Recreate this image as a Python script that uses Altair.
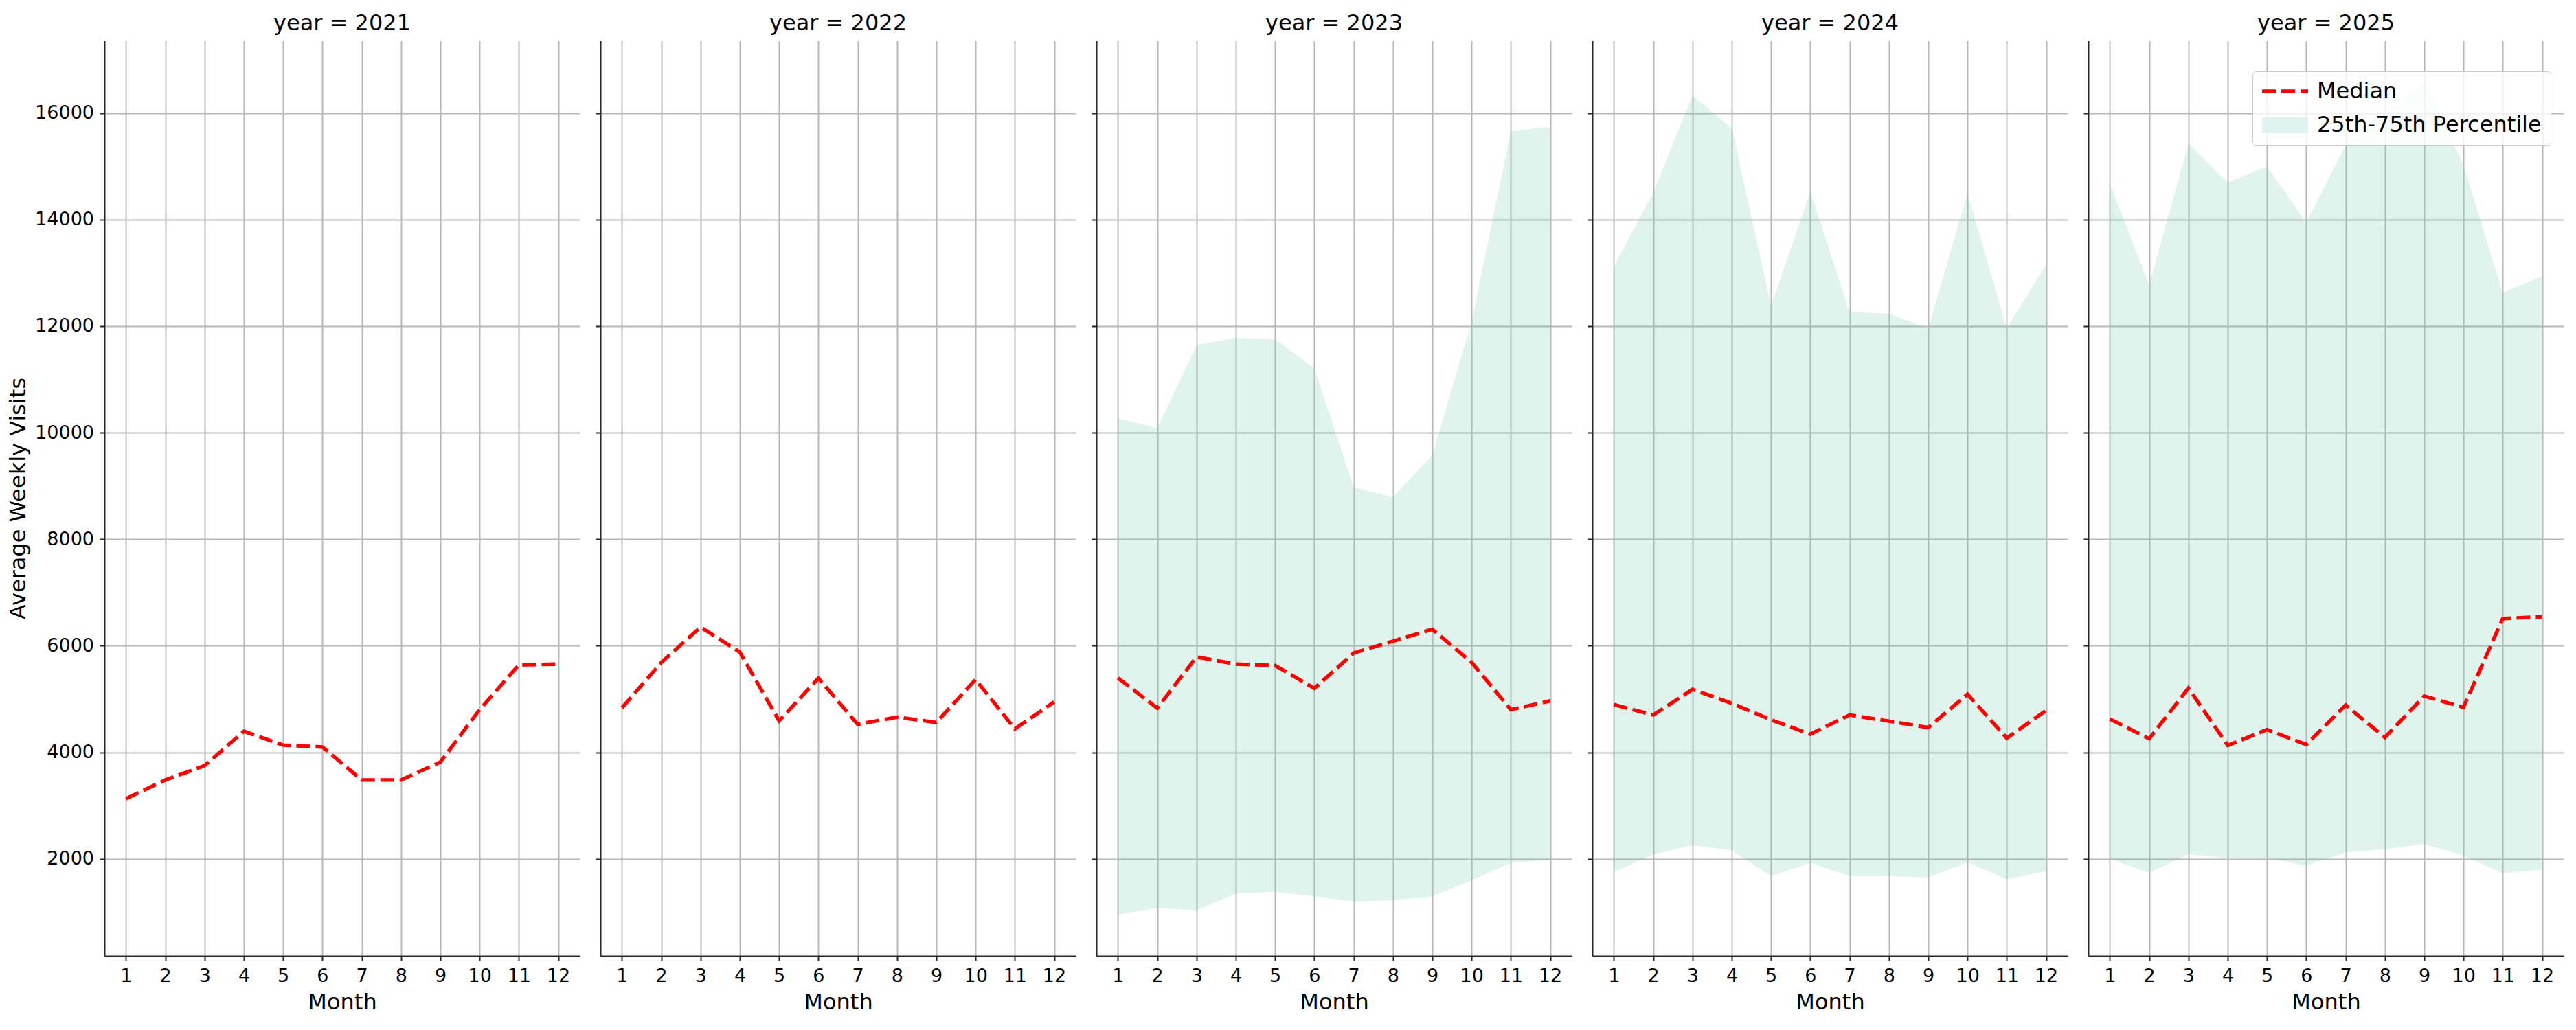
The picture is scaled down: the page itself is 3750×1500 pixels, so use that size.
import pandas as pd
import altair as alt

months = list(range(1, 13))
years = [2021, 2022, 2023, 2024, 2025]

median_2021 = [3130, 3480, 3750, 4395, 4135, 4100, 3480, 3480, 3815, 4800, 5640, 5655]
median_2022 = [4835, 5685, 6350, 5880, 4590, 5390, 4525, 4660, 4560, 5365, 4440, 4945]
median_2023 = [5395, 4830, 5790, 5655, 5630, 5200, 5865, 6085, 6310, 5690, 4800, 4965]
median_2024 = [4895, 4700, 5180, 4920, 4610, 4340, 4700, 4585, 4465, 5090, 4265, 4785]
median_2025 = [4625, 4255, 5205, 4130, 4425, 4145, 4885, 4280, 5055, 4845, 6510, 6545]

q25_2023 = [960, 1075, 1035, 1345, 1385, 1295, 1200, 1220, 1295, 1595, 1925, 1975]
q75_2023 = [10270, 10085, 11640, 11780, 11755, 11210, 8975, 8790, 9580, 12075, 15655, 15740]
q25_2024 = [1750, 2085, 2255, 2160, 1675, 1925, 1675, 1675, 1650, 1935, 1615, 1765]
q75_2024 = [13120, 14510, 16325, 15710, 12380, 14525, 12270, 12230, 11960, 14490, 11960, 13155]
q25_2025 = [2000, 1740, 2085, 2020, 2010, 1875, 2120, 2180, 2280, 2060, 1725, 1800]
q75_2025 = [14675, 12775, 15425, 14695, 14995, 13945, 15400, 15950, 16580, 15030, 12625, 12935]

y_ticks = [2000, 4000, 6000, 8000, 10000, 12000, 14000, 16000]
series_names = ['Median', '25th-75th Percentile']

medians = {2021: median_2021, 2022: median_2022, 2023: median_2023,
           2024: median_2024, 2025: median_2025}
q25s = {2023: q25_2023, 2024: q25_2024, 2025: q25_2025}
q75s = {2023: q75_2023, 2024: q75_2024, 2025: q75_2025}

FONT = 'DejaVu Sans'
BAND = '#66c2a5'


def panel(year, first=False, last=False):
    df = pd.DataFrame({
        'month': months,
        'median': medians[year],
        'series': 'Median',
    })
    if year in q25s:
        df['q25'] = q25s[year]
        df['q75'] = q75s[year]

    x = alt.X('month:Q',
              scale=alt.Scale(domain=[0.45, 12.55], nice=False, zero=False),
              axis=alt.Axis(values=months, format='d', title='Month'))
    y_axis = alt.Axis(values=y_ticks, format='d', labels=first,
                      title='Average Weekly Visits' if first else None)
    y_scale = alt.Scale(domain=[179, 17361], nice=False, zero=False)

    base = alt.Chart(df)
    layers = []
    if year in q25s:
        area = base.mark_area(color=BAND, opacity=0.2).encode(
            x=x,
            y=alt.Y('q25:Q', scale=y_scale, axis=y_axis),
            y2='q75:Q'
        )
        layers.append(area)

    if last:
        leg = alt.Legend(orient='none', legendX=239, legendY=45, title=None,
                         symbolType='M-1,0H1', symbolSize=4489, clipHeight=32,
                         symbolOffset=-10, rowPadding=17, labelFontSize=32, labelFont=FONT,
                         labelColor='black', labelOffset=2, labelLimit=600, padding=13,
                         fillColor='rgba(255,255,255,0.8)', strokeColor='#cccccc',
                         cornerRadius=5)
        line = base.mark_line().encode(
            x=x,
            y=alt.Y('median:Q', scale=y_scale, axis=y_axis),
            color=alt.Color('series:N', legend=leg,
                            scale=alt.Scale(domain=series_names, range=['#ff0000', '#e0f2ed'])),
            strokeDash=alt.StrokeDash('series:N', legend=leg,
                                      scale=alt.Scale(domain=series_names, range=[[20, 8], [1, 0]])),
            strokeWidth=alt.StrokeWidth('series:N', legend=leg,
                                        scale=alt.Scale(type='point', domain=series_names, range=[5.3, 22]))
        )
    else:
        line = base.mark_line(color='#ff0000', strokeDash=[20, 8], strokeWidth=5.3).encode(
            x=x,
            y=alt.Y('median:Q', scale=y_scale, axis=y_axis)
        )
    layers.append(line)

    return alt.layer(*layers).properties(
        width=692,
        height=1333,
        title=alt.TitleParams(text=f'year = {year}', fontSize=32, font=FONT,
                              fontWeight='normal', color='black', offset=8, anchor='middle')
    )


panels = [panel(yr, first=(i == 0), last=(i == len(years) - 1)) for i, yr in enumerate(years)]

chart = alt.hconcat(*panels, spacing=22).resolve_scale(
    color='independent', strokeDash='independent', strokeWidth='independent'
).properties(
    padding={'left': 2, 'top': 10, 'right': 5, 'bottom': 5}
).configure_view(
    stroke=None
).configure_axis(
    labelFont=FONT,
    labelFontSize=27,
    labelColor='black',
    labelPadding=8.5,
    titleFont=FONT,
    titleFontSize=32,
    titleFontWeight='normal',
    titleColor='black',
    titlePadding=7.5,
    domainColor='#262626',
    domainWidth=2,
    tickColor='#262626',
    tickWidth=2,
    tickSize=7,
    gridColor='#b8b8b8',
    gridWidth=2
).configure_axisX(
    titlePadding=10,
    labelPadding=9
)

chart.save('out.html', embed_options={'renderer': 'svg', 'actions': False})
